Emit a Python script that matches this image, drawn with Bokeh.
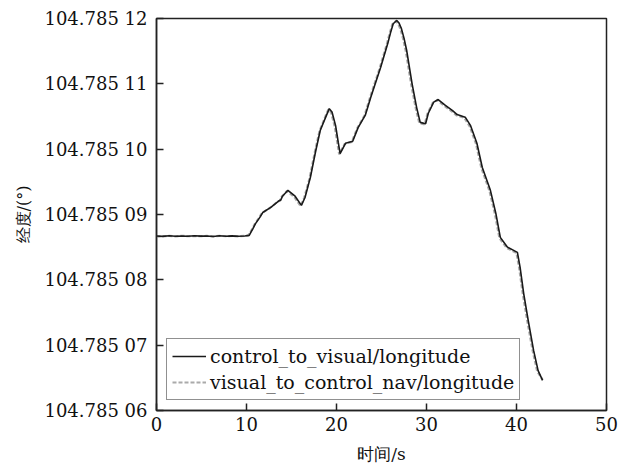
from bokeh.plotting import figure
from bokeh.models import Range1d, FixedTicker, CustomJSTickFormatter, Legend, LegendItem
from bokeh.embed import file_html
from bokeh.resources import INLINE

# time (s)
t_ctrl = [0.0, 0.7, 1.4, 2.1, 2.8, 3.5, 4.2, 4.9, 5.6, 6.3, 7.0, 7.7, 8.4, 9.1, 9.8,
          10.3, 10.7, 11.0, 11.5, 11.8, 12.7, 13.6, 13.8, 14.0, 14.6, 15.4, 16.1, 16.5,
          17.1, 17.7, 18.2, 18.8, 19.2, 19.5, 19.9, 20.2, 20.4, 21.0, 21.8, 22.4, 23.2,
          23.8, 24.9, 25.7, 26.0, 26.3, 26.7, 26.95, 27.2, 27.5, 27.8, 28.4, 28.9, 29.3,
          29.9, 30.2, 30.8, 31.3, 32.1, 32.9, 33.4, 34.3, 34.9, 35.6, 36.2, 37.1, 37.7,
          38.2, 39.0, 40.1, 40.4, 40.8, 41.3, 41.9, 42.4, 42.9]
# longitude (deg), control_to_visual
lon_ctrl = [104.7850867, 104.78508665, 104.78508675, 104.78508668, 104.78508672,
            104.78508666, 104.78508674, 104.78508669, 104.78508671, 104.78508664,
            104.78508675, 104.78508668, 104.78508673, 104.78508667, 104.78508672,
            104.7850868, 104.7850878, 104.7850886, 104.7850896, 104.7850903,
            104.7850911, 104.7850921, 104.7850922, 104.7850928, 104.7850937,
            104.7850928, 104.7850914, 104.7850926, 104.7850957, 104.7850998,
            104.7851029, 104.7851049, 104.7851062, 104.7851057, 104.7851036,
            104.7851010, 104.7850993, 104.7851009, 104.7851012, 104.7851033,
            104.7851052, 104.7851079, 104.7851125, 104.7851162, 104.7851178,
            104.7851192, 104.7851197, 104.7851193, 104.7851185, 104.7851170,
            104.7851151, 104.7851100, 104.7851064, 104.7851041, 104.7851039,
            104.7851055, 104.7851072, 104.7851076, 104.7851067, 104.7851059,
            104.7851053, 104.7851049, 104.7851036, 104.7851009, 104.7850972,
            104.7850937, 104.7850902, 104.7850865, 104.7850850, 104.7850842,
            104.7850819, 104.7850779, 104.7850738, 104.7850692, 104.7850661,
            104.7850646]
# visual_to_control_nav
t_vis = [0.0, 0.7, 1.4, 2.1, 2.8, 3.5, 4.2, 4.9, 5.6, 6.3, 7.0, 7.7, 8.4, 9.1, 9.8,
         10.2, 10.6, 10.9, 11.4, 11.7, 12.6, 13.5, 13.7, 13.9, 14.5, 15.3, 16.0, 16.4,
         17.0, 17.6, 18.1, 18.7, 19.1, 19.4, 19.8, 20.1, 20.3, 20.9, 21.7, 22.3, 23.1,
         23.7, 24.8, 25.6, 25.9, 26.2, 26.6, 26.85, 27.1, 27.4, 27.7, 28.3, 28.8, 29.2,
         29.8, 30.1, 30.7, 31.2, 32.0, 32.8, 33.3, 34.2, 34.8, 35.5, 36.1, 37.0, 37.6,
         38.1, 38.9, 40.0, 40.3, 40.7, 41.2, 41.8, 42.3, 42.9]
lon_vis = [104.7850866, 104.78508668, 104.78508672, 104.78508665, 104.78508674,
           104.78508668, 104.78508671, 104.78508667, 104.78508673, 104.78508666,
           104.78508672, 104.78508669, 104.78508671, 104.78508665, 104.78508674,
           104.7850868, 104.7850877, 104.7850885, 104.7850895, 104.7850902,
           104.7850910, 104.7850920, 104.7850921, 104.7850927, 104.7850936,
           104.7850927, 104.7850913, 104.7850925, 104.7850955, 104.7850996,
           104.7851027, 104.7851048, 104.7851061, 104.7851056, 104.7851035,
           104.7851009, 104.7850992, 104.7851008, 104.7851011, 104.7851032,
           104.7851051, 104.7851078, 104.7851124, 104.7851161, 104.7851177,
           104.7851191, 104.7851196, 104.7851192, 104.7851184, 104.7851169,
           104.7851150, 104.7851099, 104.7851063, 104.7851040, 104.7851038,
           104.7851054, 104.7851071, 104.7851075, 104.7851066, 104.7851058,
           104.7851052, 104.7851048, 104.7851035, 104.7851008, 104.7850971,
           104.7850936, 104.7850901, 104.7850864, 104.7850849, 104.7850841,
           104.7850818, 104.7850778, 104.7850737, 104.7850691, 104.7850660,
           104.7850647]

x_ticks = [0, 10, 20, 30, 40, 50]
y_ticks = [104.78506, 104.78507, 104.78508, 104.78509, 104.78510, 104.78511, 104.78512]
label_ctrl = "control_to_visual/longitude"
label_vis = "visual_to_control_nav/longitude"
x_title = "时间/s"
y_title = "经度/(°)"

FONT = "DejaVu Serif"

p = figure(width=632, height=466, output_backend="svg", toolbar_location=None,
           x_range=Range1d(0, 50), y_range=Range1d(104.78506, 104.78512),
           min_border_left=156, min_border_right=26, min_border_top=18, min_border_bottom=56)

p.xgrid.visible = False
p.ygrid.visible = False
p.background_fill_color = "white"
p.border_fill_color = "white"
p.outline_line_color = "#222222"
p.outline_line_width = 1.5

r_vis = p.line(t_vis, lon_vis, line_color="#aaaaaa", line_width=2.2, line_dash="4 2")
r_ctrl = p.line(t_ctrl, lon_ctrl, line_color="#1a1a1a", line_width=1.6)

for ax in (p.xaxis[0], p.yaxis[0]):
    ax.axis_line_color = "#222222"
    ax.axis_line_width = 1.5
    ax.major_tick_line_color = "#222222"
    ax.major_tick_line_width = 1.5
    ax.major_tick_in = 7
    ax.major_tick_out = 0
    ax.minor_tick_line_color = None
    ax.major_label_text_font = FONT
    ax.major_label_text_font_size = "18px"
    ax.major_label_text_color = "#111111"
    ax.axis_label_text_font = FONT
    ax.axis_label_text_font_style = "normal"
    ax.axis_label_text_color = "#111111"

p.xaxis[0].ticker = FixedTicker(ticks=x_ticks)
p.yaxis[0].ticker = FixedTicker(ticks=y_ticks)
p.yaxis[0].formatter = CustomJSTickFormatter(
    code="var s = tick.toFixed(5); return s.slice(0, 7) + ' ' + s.slice(7);")
p.xaxis[0].major_label_standoff = 6
p.yaxis[0].major_label_standoff = 9
p.xaxis[0].axis_label = x_title
p.yaxis[0].axis_label = y_title
p.xaxis[0].axis_label_text_font_size = "17px"
p.yaxis[0].axis_label_text_font_size = "16px"
p.xaxis[0].axis_label_standoff = 10
p.yaxis[0].axis_label_standoff = 8

legend = Legend(items=[LegendItem(label=label_ctrl, renderers=[r_ctrl]),
                       LegendItem(label=label_vis, renderers=[r_vis])],
                location=(10, 10))
legend.label_text_font = FONT
legend.label_text_font_size = "19px"
legend.label_text_color = "#111111"
legend.border_line_color = "#222222"
legend.border_line_width = 1.5
legend.padding = 5
legend.spacing = 2
legend.margin = 0
legend.label_height = 24
legend.glyph_height = 24
legend.glyph_width = 34
legend.label_standoff = 4
legend.background_fill_alpha = 1.0
p.add_layout(legend, "center")

open("out.html", "w").write(file_html(p, INLINE))
